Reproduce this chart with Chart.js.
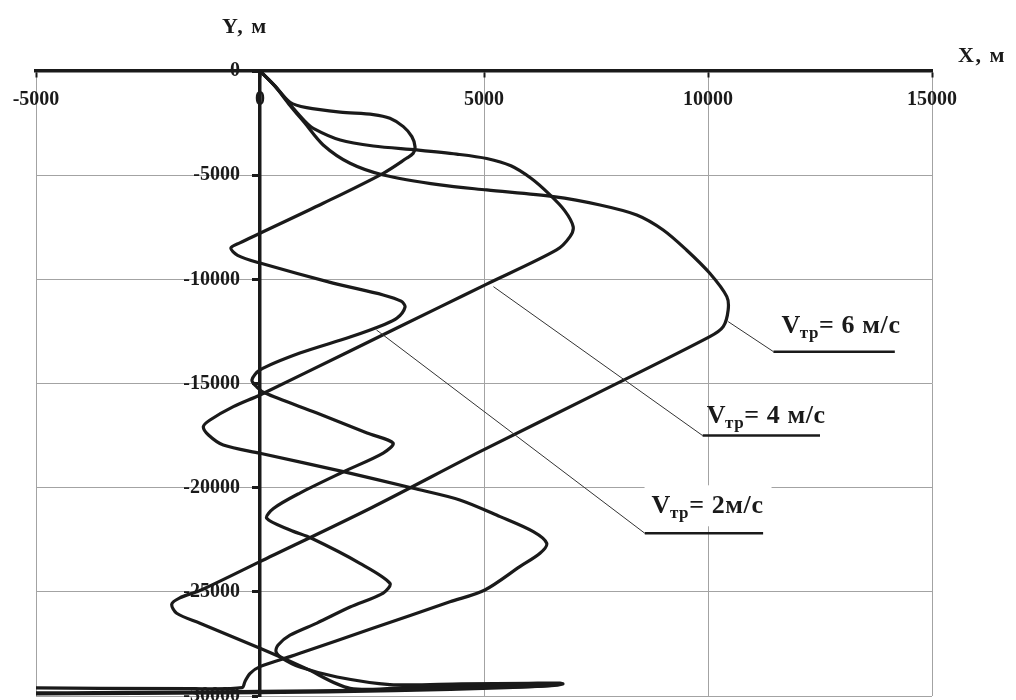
<!DOCTYPE html>
<html>
<head>
<meta charset="utf-8">
<script src="https://cdn.jsdelivr.net/npm/chart.js@4.4.1/dist/chart.umd.min.js"></script>
<style>
  html, body { margin: 0; padding: 0; background: #ffffff; }
  #wrap { width: 1016px; height: 700px; }
</style>
</head>
<body>
<div id="wrap"><canvas id="c" width="1016" height="700"></canvas></div>
<script>
// ---------------- data ----------------
const seriesNames = ['Vтр= 2м/с', 'Vтр= 4 м/с', 'Vтр= 6 м/с'];

const xTicks = [-5000, 0, 5000, 10000, 15000];
const yTicks = [0, -5000, -10000, -15000, -20000, -25000, -30000];

// V = 2 m/s
const v2X = [0, 330, 670, 1040, 1790, 2530, 2900, 3200, 3390, 3460, 3420, 3270, 2750, 1410, 0, -450, -650, -500, 0,
  1630, 2750, 3150, 3237, 3060, 2750, 2010, 890, 0, -180, -70, 110, 1270, 2390, 2970, 2750, 1850, 890, 300, 150,
  670, 1150, 2230, 2900, 2750, 2010, 1270, 670, 400, 360, 490, 890, 1720, 2900, 4500, 6000, 6700, 6760, 6500, 5000,
  2500, 0, -3000, -5600];
const v2Y = [0, -700, -1500, -1760, -1970, -2090, -2270, -2670, -3150, -3630, -3950, -4190, -4910, -6350, -7790, -8250, -8500, -8850, -9220,
  -10180, -10750, -11050, -11330, -11860, -12190, -12770, -13540, -14350, -14830, -15170, -15460, -16420, -17380, -17860, -18340, -19250, -20260, -21000, -21470,
  -22030, -22430, -23630, -24590, -25060, -25730, -26500, -27080, -27560, -27890, -28180, -28610, -29090, -29450, -29420, -29390, -29380, -29420, -29500, -29600,
  -29720, -29780, -29830, -29860];

// V = 4 m/s
const v4X = [0, 330, 670, 1000, 1190, 1790, 2530, 3500, 4390, 5060, 5600, 6050, 6450, 6800, 6990, 6920, 6620, 5060, 4020, 2000, 0,
  -595, -1115, -1265, -1150, -820, 0, 1860, 3420, 4460, 5360, 6100, 6400, 6250, 5800, 5020, 4240, 2500, 890, 670, 0,
  -220, -335, -400, -1500, -5600];
const v4Y = [0, -720, -1600, -2400, -2750, -3310, -3600, -3790, -3990, -4200, -4550, -5150, -5900, -6700, -7470, -7950, -8590, -10230, -11320, -13450, -15550,
  -16110, -16750, -17070, -17470, -17950, -18350, -19230, -20030, -20590, -21390, -22110, -22670, -23150, -23790, -24910, -25480, -26760, -27950, -28110, -28590,
  -28910, -29300, -29600, -29650, -29600];

// V = 6 m/s
const v6X = [0, 330, 670, 1000, 1410, 2010, 2750, 4020, 5060, 6550, 7590, 8410, 9000, 9520, 10040, 10420, 10450, 10340, 10040,
  7500, 4910, 2500, 0, -1300, -1800, -1970, -1860, -1340, 0, 1000, 2010, 3500, 5500, 6400, 6500, 5500, 3000, 0, -5600];
const v6Y = [0, -720, -1650, -2500, -3550, -4430, -4990, -5470, -5710, -6030, -6430, -6910, -7630, -8590, -9710, -10830, -11470, -12270, -12750,
  -15500, -18270, -20950, -23550, -24900, -25300, -25600, -26030, -26510, -27710, -28650, -29630, -29560, -29480, -29440, -29490, -29600, -29740, -29840, -29900];

// ---------------- helpers ----------------
function toPoints(xs, ys) { return xs.map((x, i) => ({ x: x, y: ys[i] })); }

const INK = '#1a1a1a';
const GRID = '#a3a3a3';
const SERIF = '"Liberation Serif", "Times New Roman", serif';

// annotation placement, in data units
const callouts = [
  { name: seriesNames[2], main: 'V', sub: 'тр', rest: '= 6 м/с', from: [10450, -12030], elbow: [11460, -13470], end: 14170, text: [11640, -12560], box: false },
  { name: seriesNames[1], main: 'V', sub: 'тр', rest: '= 4 м/с', from: [5210, -10350], elbow: [9880, -17500], end: 12500, text: [9970, -16880], box: false },
  { name: seriesNames[0], main: 'V', sub: 'тр', rest: '= 2м/с', from: [2600, -12430], elbow: [8590, -22190], end: 11230, text: [8740, -21230], box: true }
];

const annotationPlugin = {
  id: 'callouts',
  afterDatasetsDraw(chart) {
    const ctx = chart.ctx;
    const xs = chart.scales.x, ys = chart.scales.y;
    ctx.save();
    callouts.forEach(c => {
      const x0 = xs.getPixelForValue(c.from[0]), y0 = ys.getPixelForValue(c.from[1]);
      const x1 = xs.getPixelForValue(c.elbow[0]), y1 = ys.getPixelForValue(c.elbow[1]);
      const x2 = xs.getPixelForValue(c.end);
      const tx = xs.getPixelForValue(c.text[0]), ty = ys.getPixelForValue(c.text[1]);
      ctx.letterSpacing = '0.6px';
      ctx.font = 'bold 26px ' + SERIF;
      const wMain = ctx.measureText(c.main).width;
      const wRest = ctx.measureText(c.rest).width;
      ctx.font = 'bold 17px ' + SERIF;
      const wSub = ctx.measureText(c.sub).width;
      if (c.box) {
        ctx.fillStyle = '#ffffff';
        ctx.fillRect(tx - 7, ty - 28, wMain + wSub + wRest + 14, 41);
      }
      // leader
      ctx.strokeStyle = '#333333';
      ctx.lineWidth = 1;
      ctx.beginPath();
      ctx.moveTo(x0, y0);
      ctx.lineTo(x1, y1);
      ctx.stroke();
      // underline
      ctx.strokeStyle = INK;
      ctx.lineWidth = 2.5;
      ctx.beginPath();
      ctx.moveTo(x1, y1);
      ctx.lineTo(x2, y1);
      ctx.stroke();
      // text
      ctx.fillStyle = INK;
      ctx.textAlign = 'left';
      ctx.textBaseline = 'alphabetic';
      ctx.font = 'bold 26px ' + SERIF;
      ctx.fillText(c.main, tx, ty);
      ctx.font = 'bold 17px ' + SERIF;
      ctx.fillText(c.sub, tx + wMain - 1, ty + 5);
      ctx.font = 'bold 26px ' + SERIF;
      ctx.fillText(c.rest, tx + wMain + wSub - 1, ty);
    });
    // axis titles
    ctx.letterSpacing = '1.5px';
    ctx.font = 'bold 22px ' + SERIF;
    ctx.fillStyle = INK;
    ctx.textAlign = 'left';
    ctx.textBaseline = 'alphabetic';
    const ax0 = xs.getPixelForValue(0), ay0 = ys.getPixelForValue(0);
    ctx.fillText('Y, м', ax0 - 38, chart.chartArea.top - 38);
    ctx.fillText('X, м', chart.chartArea.right + 26, ay0 - 9);
    ctx.restore();
  }
};

const lineStyle = {
  showLine: true,
  borderColor: INK,
  backgroundColor: INK,
  borderWidth: 3.2,
  pointRadius: 0,
  pointHoverRadius: 0,
  tension: 0.3,
  fill: false,
  borderJoinStyle: 'round',
  borderCapStyle: 'round'
};

const hideAtZero = ctx => (ctx.tick && ctx.tick.value === 0) ? 'rgba(0,0,0,0)' : GRID;

new Chart(document.getElementById('c'), {
  type: 'scatter',
  data: {
    datasets: [
      Object.assign({ label: seriesNames[0], data: toPoints(v2X, v2Y) }, lineStyle),
      Object.assign({ label: seriesNames[1], data: toPoints(v4X, v4Y) }, lineStyle),
      Object.assign({ label: seriesNames[2], data: toPoints(v6X, v6Y) }, lineStyle)
    ]
  },
  options: {
    responsive: false,
    devicePixelRatio: 1,
    animation: false,
    layout: { padding: { left: 36, right: 84, top: 71, bottom: 4 } },
    plugins: { legend: { display: false }, tooltip: { enabled: false } },
    scales: {
      x: {
        type: 'linear',
        min: -5000, max: 15000,
        position: { y: 0 },
        afterBuildTicks: s => { s.ticks = xTicks.map(v => ({ value: v })); },
        afterFit: s => { s.height = 0; s.paddingLeft = 0; s.paddingRight = 0; s.paddingTop = 0; s.paddingBottom = 0; },
        ticks: {
          autoSkip: false, maxRotation: 0, padding: 12, color: INK,
          font: { family: SERIF, weight: 'bold', size: 20 },
          callback: v => String(v)
        },
        grid: { color: hideAtZero, lineWidth: 1, tickColor: INK, tickLength: 5, tickWidth: 2 },
        border: { color: INK, width: 3.5 }
      },
      y: {
        type: 'linear',
        min: -30000, max: 0,
        position: { x: 0 },
        afterBuildTicks: s => { s.ticks = yTicks.map(v => ({ value: v })); },
        afterFit: s => { s.width = 0; s.paddingLeft = 0; s.paddingRight = 0; s.paddingTop = 0; s.paddingBottom = 0; },
        ticks: {
          autoSkip: false, padding: 14, color: INK,
          font: { family: SERIF, weight: 'bold', size: 20 },
          callback: v => String(v) + '\u2003'
        },
        grid: { color: hideAtZero, lineWidth: 1, tickColor: INK, tickLength: 6, tickWidth: 3 },
        border: { color: INK, width: 3.5 }
      }
    }
  },
  plugins: [annotationPlugin]
});
</script>
</body>
</html>
